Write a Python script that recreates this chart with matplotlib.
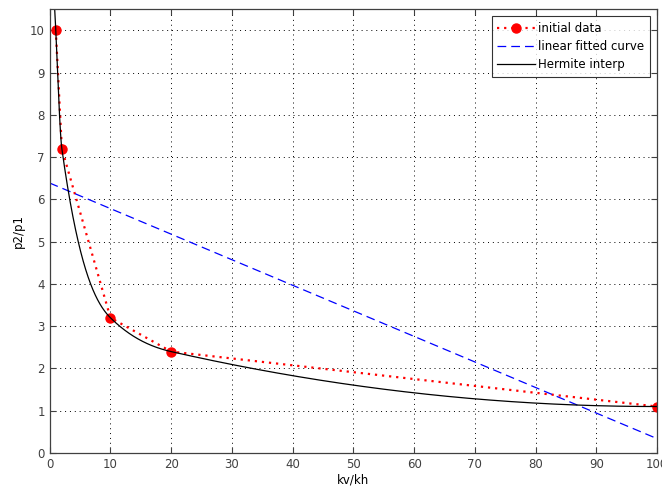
import numpy as np
import matplotlib
matplotlib.use("Agg")
import matplotlib.pyplot as plt

# data
kv_kh = np.array([1, 2, 10, 20, 100], dtype=float)
p2_p1 = np.array([10.0, 7.2, 3.2, 2.4, 1.1])
x_ticks = list(range(0, 101, 10))
y_ticks = list(range(0, 11))
legend_labels = ["initial data", "linear fitted curve", "Hermite interp"]


def pchip_slopes(x, y):
    h = np.diff(x)
    d = np.diff(y) / h
    n = len(x)
    m = np.zeros(n)
    for k in range(1, n - 1):
        if d[k - 1] * d[k] > 0:
            w1 = 2 * h[k] + h[k - 1]
            w2 = h[k] + 2 * h[k - 1]
            m[k] = (w1 + w2) / (w1 / d[k - 1] + w2 / d[k])
    def end(h0, h1, d0, d1):
        s = ((2 * h0 + h1) * d0 - h0 * d1) / (h0 + h1)
        if np.sign(s) != np.sign(d0):
            s = 0.0
        elif np.sign(d0) != np.sign(d1) and abs(s) > abs(3 * d0):
            s = 3 * d0
        return s
    m[0] = end(h[0], h[1], d[0], d[1])
    m[-1] = end(h[-1], h[-2], d[-1], d[-2])
    return m


def pchip_eval(x, y, xq):
    m = pchip_slopes(x, y)
    idx = np.clip(np.searchsorted(x, xq) - 1, 0, len(x) - 2)
    h = x[idx + 1] - x[idx]
    t = (xq - x[idx]) / h
    h00 = 2 * t**3 - 3 * t**2 + 1
    h10 = t**3 - 2 * t**2 + t
    h01 = -2 * t**3 + 3 * t**2
    h11 = t**3 - t**2
    return h00 * y[idx] + h10 * h * m[idx] + h01 * y[idx + 1] + h11 * h * m[idx + 1]


coef = np.polyfit(kv_kh, p2_p1, 1)
x_fit = np.array([0.0, 100.0])
y_fit = np.polyval(coef, x_fit)

x_h = np.concatenate([np.arange(0, 20, 0.02), np.arange(20, 100.01, 0.5)])
y_h = pchip_eval(kv_kh, p2_p1, x_h)

fig = plt.figure(figsize=(6.62, 4.90), dpi=100)
ax = fig.add_axes([0.0751, 0.0755, 0.9924 - 0.0751, 0.981 - 0.0755])

ax.plot(kv_kh, p2_p1, linestyle=(0, (1, 2.2)), color="red", lw=1.6,
        marker="o", markersize=6.5, markerfacecolor="red", markeredgecolor="red",
        label=legend_labels[0])
ax.plot(x_fit, y_fit, linestyle=(0, (7, 4)), color="#0000ff", lw=0.9,
        label=legend_labels[1])
ax.plot(x_h, y_h, color="black", lw=0.9, label=legend_labels[2])

ax.set_xlim(0, 100)
ax.set_ylim(0, 10.5)
ax.set_xticks(x_ticks)
ax.set_yticks(y_ticks)
ax.grid(True, linestyle=(0, (1, 4)), color="black", lw=0.7)
ax.tick_params(direction="in", top=True, right=True, labelsize=8.5,
               colors="#404040", length=4, width=0.8)
for sp in ax.spines.values():
    sp.set_color("#404040")
    sp.set_linewidth(0.9)

ax.set_xlabel("kv/kh", fontsize=8.5, labelpad=2)
ax.set_ylabel("p2/p1", fontsize=8.5, labelpad=4)

leg = ax.legend(loc="upper right", fontsize=8.5, frameon=True, fancybox=False,
                borderaxespad=0.6, handlelength=3.2, labelspacing=0.45,
                borderpad=0.45, handletextpad=0.3)
leg.get_frame().set_edgecolor("black")
leg.get_frame().set_linewidth(0.8)

fig.savefig("out.png", dpi=100)
